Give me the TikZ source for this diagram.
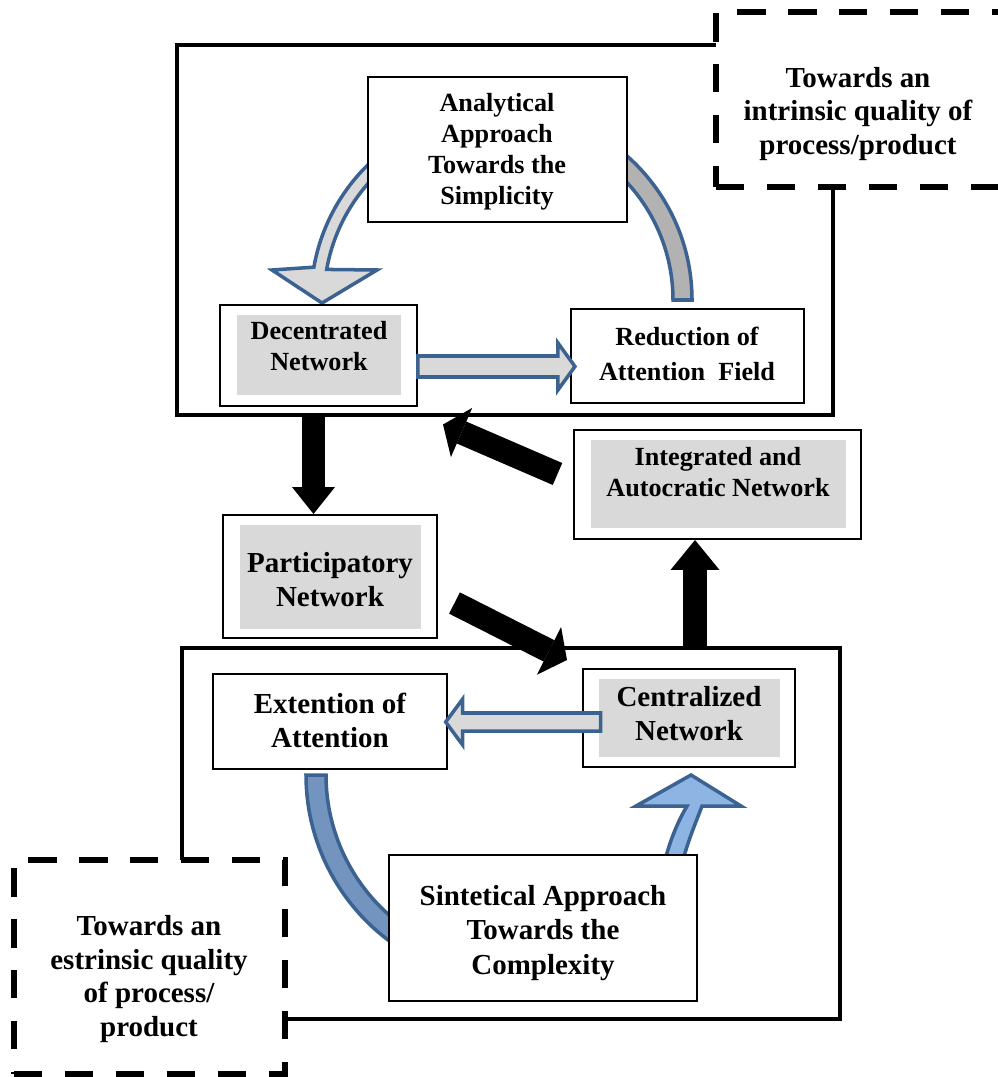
\documentclass[tikz,border=0pt]{standalone}
\usepackage{fontspec}
\setmainfont{Liberation Serif}
\usetikzlibrary{arrows.meta,calc}
\definecolor{bord}{HTML}{3C6291}
\definecolor{lgray}{HTML}{D9D9D9}
\definecolor{mgray}{HTML}{B2B2B2}
\definecolor{mblue}{HTML}{7294BF}
\definecolor{lblue}{HTML}{8EB4E3}
\begin{document}
\begin{tikzpicture}[x=0.02cm,y=0.02cm,yscale=-1,
  frame/.style={draw=black,line width=2.6pt,inner sep=0pt},
  dbox/.style={draw=black,line width=3.6pt,dash pattern=on 16pt off 13pt,fill=white,inner sep=0pt},
  box/.style={draw=black,line width=1.1pt,fill=white,inner sep=0pt},
  gbox/.style={fill=lgray,inner sep=0pt},
  txtS/.style={font=\bfseries\fontsize{14.9}{17.6}\selectfont,align=center,inner sep=0pt},
  txtL/.style={font=\bfseries\fontsize{16.5}{19.3}\selectfont,align=center,inner sep=0pt},
  barrow/.style={draw=bord,line width=2pt,line join=miter},
  blkA/.style={line width=13pt,-{Triangle[width=24.4pt,length=15.3pt,line width=0pt]}},
  blkB/.style={line width=13.6pt,-{Triangle[width=30.5pt,length=11.5pt,line width=0pt]}},
  blkC/.style={line width=13.6pt,-{Triangle[width=27.8pt,length=17pt,line width=0pt]}},
]
\useasboundingbox (0,0) rectangle (997,1077);

% frames
\node[frame,minimum width=13.12cm,minimum height=7.4cm] (upper) at (505,230) {};
\node[frame,minimum width=13.16cm,minimum height=7.42cm] (lower) at (511,833.5) {};

% curved band arrows (top)
\coordinate (tc) at (500,300);
\draw[barrow,fill=lgray] (tc) ++(-118:189) arc[start angle=-118,end angle=-170,radius=189]
  -- (272,270) -- (322,303) -- (377,270) -- ($(tc)+(-170:176)$)
  arc[start angle=-170,end angle=-118,radius=176] -- cycle;
\draw[barrow,fill=mgray] (tc) ++(-60:192) arc[start angle=-60,end angle=0,radius=192]
  -- ($(tc)+(0:173)$) arc[start angle=0,end angle=-60,radius=173] -- cycle;

% curved band arrows (bottom)
\coordinate (bc) at (513,775);
\draw[barrow,fill=mblue] (bc) ++(180:207) arc[start angle=180,end angle=125,radius=207]
  -- ($(bc)+(125:187)$) arc[start angle=125,end angle=180,radius=187] -- cycle;
\draw[barrow,fill=lblue] (665,860) .. controls (672,834) and (680,818) .. (687,806)
  -- (636,806) -- (691,775) -- (741,806) -- (702,806)
  .. controls (696,822) and (689,838) .. (683,860) -- cycle;

% boxes
\node[box,minimum width=5.18cm,minimum height=2.9cm] (ana) at (497.5,149.5) {};
\node[box,minimum width=3.94cm,minimum height=2.02cm] (dec) at (318.5,355.5) {};
\node[gbox,minimum width=3.28cm,minimum height=1.6cm] (decG) at (319,355) {};
\node[box,minimum width=4.66cm,minimum height=1.88cm] (red) at (687.5,356) {};
\node[box,minimum width=5.74cm,minimum height=2.18cm] (int) at (717.5,484.5) {};
\node[gbox,minimum width=5.1cm,minimum height=1.76cm] (intG) at (718.5,484) {};
\node[box,minimum width=4.28cm,minimum height=2.46cm] (par) at (330,576.5) {};
\node[gbox,minimum width=3.62cm,minimum height=2.08cm] (parG) at (330.5,577) {};
\node[box,minimum width=4.68cm,minimum height=1.9cm] (ext) at (330,721.5) {};
\node[box,minimum width=4.24cm,minimum height=1.96cm] (cen) at (689,718) {};
\node[gbox,minimum width=3.62cm,minimum height=1.56cm] (cenG) at (689.5,718) {};
\node[box,minimum width=6.16cm,minimum height=2.92cm] (sin) at (543,928) {};

% straight block arrows
\draw[barrow,fill=lgray] (dec.east) ++(0,0.5) -- ++(140,0) -- ++(0,-13) -- ++(17,23.5)
  -- ++(-17,23.5) -- ++(0,-13) -- ++(-140,0) -- cycle;
\draw[barrow,fill=lgray] (cenG.west) ++(2,-5) -- ++(-138,0) -- ++(0,-14) -- ++(-17,23)
  -- ++(17,23) -- ++(0,-14) -- ++(138,0) -- cycle;

% black arrows
\coordinate (a1s) at (313.5,414);
\coordinate (a1e) at (313.5,514);
\coordinate (a2s) at (557.5,474);
\coordinate (a2e) at (443,424.5);
\coordinate (a3s) at (454.5,603);
\coordinate (a3e) at (567,660);
\coordinate (a4s) at (695,649);
\coordinate (a4e) at (695,540);
\draw[blkA] (a1s) -- (a1e);
\draw[blkB] (a2s) -- (a2e);
\draw[blkB] (a3s) -- (a3e);
\draw[blkC] (a4s) -- (a4e);

% dashed boxes
\node[dbox,minimum width=5.88cm,minimum height=3.5cm] (tr) at (863,99.5) {};
\node[dbox,minimum width=5.42cm,minimum height=4.28cm] (bl) at (149.5,967) {};

% texts
\node[txtS] (anaT) at (497,152) {Analytical\\Approach\\Towards the\\Simplicity};
\node[txtL] (trT) at (858,114) {Towards an\\intrinsic quality of\\process/product};
\node[txtS] (decT) at (319,346) {Decentrated\\Network};
\node[txtS,font=\bfseries\fontsize{14.9}{19.8}\selectfont] (redT) at (687,354) {Reduction of\\Attention~~Field};
\node[txtS] (intT) at (718,472) {Integrated and\\Autocratic Network};
\node[txtL] (parT) at (330,580) {Participatory\\Network};
\node[txtL] (extT) at (330,720) {Extention of\\Attention};
\node[txtL] (cenT) at (689,714) {Centralized\\Network};
\node[txtL,font=\bfseries\fontsize{16.5}{19.8}\selectfont] (sinT) at (543,933) {Sintetical Approach\\Towards the\\Complexity};
\node[txtL] (blT) at (149,979) {Towards an\\estrinsic quality\\of process/\\product};
\end{tikzpicture}
\end{document}
